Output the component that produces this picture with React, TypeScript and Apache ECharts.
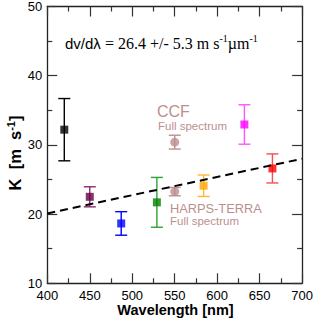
import React, { useEffect, useRef } from "react";
import * as echarts from "echarts";

const wavelengths = [420, 450, 487, 529, 584, 632, 665];
const kValues = [32.2, 22.5, 18.65, 21.7, 24.1, 32.95, 26.6];
const kErrors = [4.5, 1.45, 1.7, 3.6, 1.55, 2.85, 2.1];
const markerColors = ["#000000", "#660044", "#0000ff", "#008000", "#ffa500", "#ff00ff", "#ff0000"];
const errorColors = ["#000000", "#8a2a6c", "#0000ff", "#33a033", "#ffb733", "#ff55ff", "#f05050"];

const ccfWavelength = [550];
const ccfK = [30.4];
const ccfErr = [1.0];

const terraWavelength = [550];
const terraK = [23.25];
const terraErr = [0.6];

const fitX = [400, 700];
const fitY = [20.1, 28.0];

const xTicks = [400, 450, 500, 550, 600, 650, 700];
const yTicks = [10, 20, 30, 40, 50];

const SANS = "'Liberation Sans', Arial, Helvetica, sans-serif";
const SERIF = "'Liberation Serif', 'Times New Roman', serif";
const ROSY = "#bc8f8f";

function errorSeries(name: string, xs: number[], ys: number[], es: number[], colors: string[], z: number) {
  return {
    name,
    type: "custom",
    z,
    data: xs.map((x, i) => [x, ys[i], es[i]]),
    renderItem: (params: any, api: any) => {
      const x = api.value(0);
      const y = api.value(1);
      const e = api.value(2);
      const top = api.coord([x, y + e]);
      const bot = api.coord([x, y - e]);
      const hw = 6;
      const color = colors[params.dataIndex % colors.length];
      const st = { stroke: color, lineWidth: 1.4 };
      return {
        type: "group",
        children: [
          { type: "line", shape: { x1: top[0], y1: top[1], x2: bot[0], y2: bot[1] }, style: st },
          { type: "line", shape: { x1: top[0] - hw, y1: top[1], x2: top[0] + hw, y2: top[1] }, style: st },
          { type: "line", shape: { x1: bot[0] - hw, y1: bot[1], x2: bot[0] + hw, y2: bot[1] }, style: st },
        ],
      };
    },
  };
}

export default function App() {
  const ref = useRef<HTMLDivElement>(null);
  useEffect(() => {
    if (!ref.current) return;
    const chart = echarts.init(ref.current, null, { renderer: "svg" });
    const axisLine = { show: true, lineStyle: { color: "#222", width: 1.3 } };
    const tick = { show: true, inside: true, length: 10, lineStyle: { color: "#333", width: 1.2 } };
    const minor = { show: true, splitNumber: 2, length: 5, lineStyle: { color: "#333", width: 1.2 } };
    const option: any = {
      animation: false,
      backgroundColor: "#ffffff",
      grid: { left: 47.3, right: 12.7, top: 5.7, bottom: 37.7, containLabel: false },
      xAxis: [
        {
          type: "value",
          min: xTicks[0],
          max: xTicks[xTicks.length - 1],
          interval: 50,
          axisLine,
          axisTick: tick,
          minorTick: minor,
          splitLine: { show: false },
          axisLabel: { color: "#000", fontFamily: SANS, fontSize: 13, lineHeight: 12, margin: 6 },
        },
        {
          type: "value",
          position: "top",
          min: xTicks[0],
          max: xTicks[xTicks.length - 1],
          interval: 50,
          axisLine,
          axisTick: tick,
          minorTick: minor,
          splitLine: { show: false },
          axisLabel: { show: false },
        },
      ],
      yAxis: [
        {
          type: "value",
          min: yTicks[0],
          max: yTicks[yTicks.length - 1],
          interval: 10,
          axisLine,
          axisTick: tick,
          minorTick: minor,
          splitLine: { show: false },
          axisLabel: { color: "#000", fontFamily: SANS, fontSize: 13, lineHeight: 12, margin: 5 },
        },
        {
          type: "value",
          position: "right",
          min: yTicks[0],
          max: yTicks[yTicks.length - 1],
          interval: 10,
          axisLine,
          axisTick: tick,
          minorTick: minor,
          splitLine: { show: false },
          axisLabel: { show: false },
        },
      ],
      series: [
        errorSeries("err", wavelengths, kValues, kErrors, errorColors, 2),
        errorSeries("ccfErr", ccfWavelength, ccfK, ccfErr, [ROSY], 2),
        errorSeries("terraErr", terraWavelength, terraK, terraErr, [ROSY], 2),
        {
          name: "K",
          type: "scatter",
          symbol: "rect",
          symbolSize: 8,
          z: 3,
          data: wavelengths.map((w, i) => ({
            value: [w, kValues[i]],
            itemStyle: { color: markerColors[i] },
          })),
        },
        {
          name: "CCF",
          type: "scatter",
          symbol: "circle",
          symbolSize: 9,
          z: 3,
          itemStyle: { color: ROSY },
          data: ccfWavelength.map((w, i) => [w, ccfK[i]]),
        },
        {
          name: "HARPS-TERRA",
          type: "scatter",
          symbol: "circle",
          symbolSize: 9,
          z: 3,
          itemStyle: { color: ROSY },
          data: terraWavelength.map((w, i) => [w, terraK[i]]),
        },
        {
          name: "fit",
          type: "line",
          z: 4,
          showSymbol: false,
          symbol: "none",
          lineStyle: { color: "#000", width: 2, type: [8, 5] },
          data: fitX.map((x, i) => [x, fitY[i]]),
        },
      ],
      graphic: [
        {
          type: "text",
          x: 65,
          y: 43,
          style: {
            text: "{s|dv/dλ }{r|= 26.4 +/- 5.3 m s}{sup|-1}{r|µm}{sup|-1}",
            verticalAlign: "middle",
            align: "left",
            rich: {
              s: { fontFamily: SANS, fontSize: 15, lineHeight: 20, fill: "#000" },
              r: { fontFamily: SERIF, fontSize: 16, lineHeight: 20, fill: "#000" },
              sup: { fontFamily: SERIF, fontSize: 10, lineHeight: 10, verticalAlign: "top", fill: "#000" },
            },
          },
        },
        {
          type: "text",
          x: 157,
          y: 111,
          style: { text: "CCF", fontFamily: SANS, fontSize: 16, fill: ROSY, verticalAlign: "middle" },
        },
        {
          type: "text",
          x: 158,
          y: 126,
          style: { text: "Full spectrum", fontFamily: SANS, fontSize: 11.5, fill: ROSY, verticalAlign: "middle" },
        },
        {
          type: "text",
          x: 170,
          y: 208,
          style: { text: "HARPS-TERRA", fontFamily: SANS, fontSize: 12.8, fill: ROSY, verticalAlign: "middle" },
        },
        {
          type: "text",
          x: 170,
          y: 220.5,
          style: { text: "Full spectrum", fontFamily: SANS, fontSize: 11.5, fill: ROSY, verticalAlign: "middle" },
        },
        {
          type: "text",
          x: 175.5,
          y: 310,
          style: {
            text: "Wavelength [nm]",
            fontFamily: SANS,
            fontSize: 14.5,
            lineHeight: 14,
            fontWeight: "bold",
            fill: "#000",
            align: "center",
            verticalAlign: "middle",
          },
        },
        {
          type: "text",
          x: 15,
          y: 153,
          rotation: Math.PI / 2,
          style: {
            text: "{b|K  [m  s}{sup|-1}{b|]}",
            align: "center",
            verticalAlign: "middle",
            rich: {
              b: { fontFamily: SANS, fontSize: 16.5, fontWeight: "bold", lineHeight: 20, fill: "#000" },
              sup: { fontFamily: SANS, fontSize: 11, fontWeight: "bold", lineHeight: 10, verticalAlign: "top", fill: "#000" },
            },
          },
        },
      ],
    };
    chart.setOption(option);
    return () => chart.dispose();
  }, []);
  return <div ref={ref} style={{ position: "fixed", left: 0, top: 0, width: 316, height: 321 }} />;
}
